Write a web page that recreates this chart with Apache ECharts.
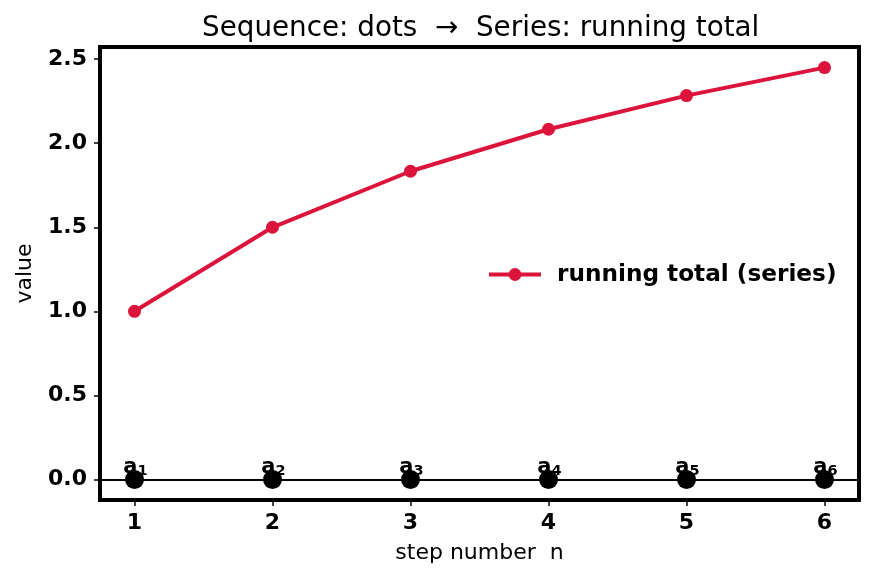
<!DOCTYPE html>
<html>
<head>
<meta charset="utf-8">
<script src="https://cdn.jsdelivr.net/npm/echarts@6/dist/echarts.min.js"></script>
<style>html,body{margin:0;padding:0;background:#fff;}#c{width:873px;height:581px;}</style>
</head>
<body>
<div id="c"></div>
<script>
const steps = [1, 2, 3, 4, 5, 6];
const runningTotal = [1.0, 1.5, 1.8333, 2.0833, 2.2833, 2.45];
const dotValues = [0, 0, 0, 0, 0, 0];
const dotSubscripts = ['1', '2', '3', '4', '5', '6'];
const xTicks = [1, 2, 3, 4, 5, 6];
const yTicks = [0, 0.5, 1.0, 1.5, 2.0, 2.5];
const yTickLabels = ['0.0', '0.5', '1.0', '1.5', '2.0', '2.5'];

const FONT = 'DejaVu Sans';
const chart = echarts.init(document.getElementById('c'), null, {renderer: 'canvas'});
chart.setOption({
  animation: false,
  backgroundColor: '#fff',
  textStyle: {fontFamily: FONT},
  title: {
    text: 'Sequence: dots  \u2192  Series: running total',
    left: 197, top: 10,
    textStyle: {fontFamily: FONT, fontSize: 27.8, fontWeight: 'normal', color: '#000'}
  },
  grid: {
    left: 100, right: 14, top: 47, bottom: 81,
    show: true, borderColor: '#000', borderWidth: 4, backgroundColor: 'transparent'
  },
  legend: {
    data: [{
      name: 'running total (series)',
      itemStyle: {color: '#DC143C', opacity: 1},
      lineStyle: {color: '#DC143C', width: 4, opacity: 1}
    }],
    left: 482, top: 258,
    itemWidth: 52, itemHeight: 16,
    textStyle: {fontFamily: FONT, fontSize: 23.2, fontWeight: 'bold', color: '#000', padding: [0, 0, 0, 11]}
  },
  xAxis: {
    type: 'value', min: 0.75, max: 6.25,
    name: 'step number  n', nameLocation: 'middle', nameGap: 42,
    nameTextStyle: {fontFamily: FONT, fontSize: 22, color: '#000'},
    axisLine: {show: true, onZero: false, lineStyle: {color: '#000', width: 4}},
    axisTick: {show: true, length: 6, lineStyle: {color: '#000', width: 1.5}, customValues: xTicks},
    axisLabel: {customValues: xTicks, margin: 12, fontFamily: FONT, fontSize: 22, fontWeight: 'bold', color: '#000',
      formatter: v => String(v)},
    splitLine: {show: false}
  },
  yAxis: {
    type: 'value', min: -0.1225, max: 2.5725,
    name: 'value', nameLocation: 'middle', nameGap: 64,
    nameTextStyle: {fontFamily: FONT, fontSize: 22, color: '#000'},
    axisLine: {show: true, onZero: false, lineStyle: {color: '#000', width: 4}},
    axisTick: {show: true, length: 6, lineStyle: {color: '#000', width: 1.5}, customValues: yTicks},
    axisLabel: {customValues: yTicks, margin: 13, fontFamily: FONT, fontSize: 22, fontWeight: 'bold', color: '#000',
      formatter: v => yTickLabels[yTicks.findIndex(t => Math.abs(t - v) < 1e-6)] ?? v.toFixed(1)},
    splitLine: {show: false}
  },
  series: [
    {
      name: 'sequence',
      type: 'scatter',
      data: steps.map((n, i) => [n, dotValues[i]]),
      symbol: 'circle', symbolSize: 19,
      itemStyle: {color: '#000', opacity: 1},
      z: 3,
      label: {
        show: true, position: 'inside', offset: [1, -12],
        formatter: p => '{a|a}{s|' + dotSubscripts[p.dataIndex] + '}',
        rich: {
          a: {fontFamily: FONT, fontSize: 21, fontWeight: 'bold', color: '#000', lineHeight: 22},
          s: {fontFamily: FONT, fontSize: 14.5, fontWeight: 'bold', color: '#000', lineHeight: 14, verticalAlign: 'bottom'}
        }
      },
      emphasis: {disabled: true},
      markLine: {
        silent: true, symbol: 'none', label: {show: false},
        lineStyle: {color: '#000', width: 1.8, type: 'solid', opacity: 1},
        emphasis: {disabled: true},
        data: [{yAxis: 0}]
      }
    },
    {
      name: 'running total (series)',
      type: 'line',
      data: steps.map((n, i) => [n, runningTotal[i]]),
      symbol: 'circle', symbolSize: 13,
      lineStyle: {color: '#DC143C', width: 4},
      itemStyle: {color: '#DC143C'},
      z: 4
    }
  ]
});
</script>
</body>
</html>
